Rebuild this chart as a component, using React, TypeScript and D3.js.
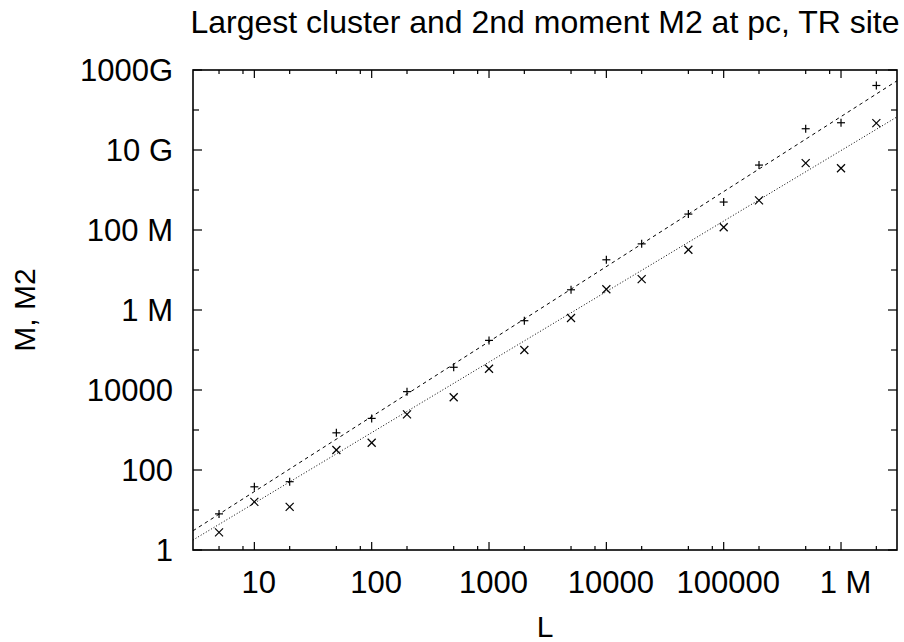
import React from "react";
import * as d3 from "d3";

const sizesL = [5, 10, 20, 50, 100, 200, 500, 1000, 2000, 5000, 1e4, 2e4, 5e4, 1e5, 2e5, 5e5, 1e6, 2e6];
const seriesPlus = [8, 38, 51, 850, 1950, 9100, 37000, 174000, 540000, 3.2e6, 1.8e7, 4.5e7, 2.5e8, 5.0e8, 4.2e9, 3.4e10, 4.8e10, 4.1e11];
const seriesCross = [2.75, 16, 12, 316, 480, 2450, 6600, 34000, 100000, 6.3e5, 3.3e6, 5.9e6, 3.2e7, 1.17e8, 5.5e8, 4.7e9, 3.5e9, 4.7e10];
const fitA = [0.385, 0.256];
const fitB = [1.875, 1.763];

const xTickValues = [10, 100, 1000, 1e4, 1e5, 1e6];
const xTickLabels = ["10", "100", "1000", "10000", "100000", "1 M"];
const xMinorMultipliers = [2, 5, 8];
const yTickValues = [1, 100, 1e4, 1e6, 1e8, 1e10, 1e12];
const yTickLabels = ["1", "100", "10000", "1 M", "100 M", "10 G", "1000G"];
const yMinorValues = [10, 1e3, 1e5, 1e7, 1e9, 1e11];

const title = "Largest cluster and 2nd moment M2 at pc, TR site";
const xLabel = "L";
const yLabel = "M, M2";

const W = 904, H = 642;
const left = 193, right = 897, top = 70, bottom = 550;
const font = "'Liberation Sans', Arial, Helvetica, sans-serif";

export default function App() {
  const x = d3.scaleLog().domain([3, 3e6]).range([left, right]);
  const y = d3.scaleLog().domain([1, 1e12]).range([bottom, top]);

  const minorX: number[] = [];
  for (let e = 0; e <= 6; e++) {
    for (const m of xMinorMultipliers) {
      const v = m * Math.pow(10, e);
      if (v > 3 && v < 3e6) minorX.push(v);
    }
  }

  const fitPath = (i: number) => {
    const xs = x.domain();
    const pts: number[] = [];
    for (let k = 0; k <= 20; k++) pts.push(xs[0] * Math.pow(xs[1] / xs[0], k / 20));
    return d3
      .line<number>()
      .x((d) => x(d))
      .y((d) => y(fitA[i] * Math.pow(d, fitB[i])))(pts) as string;
  };

  const s = 4;

  return (
    <svg width={W} height={H} style={{ position: "absolute", left: 0, top: 0, background: "#fff" }} fontFamily={font}>
      <rect x={0} y={0} width={W} height={H} fill="#fff" />
      <defs>
        <clipPath id="plotclip">
          <rect x={left} y={top} width={right - left} height={bottom - top} />
        </clipPath>
      </defs>
      {/* x ticks */}
      {xTickValues.map((v) => (
        <g key={"xt" + v}>
          <line x1={x(v)} x2={x(v)} y1={bottom} y2={bottom - 8} stroke="#000" strokeWidth={1.2} />
          <line x1={x(v)} x2={x(v)} y1={top} y2={top + 8} stroke="#000" strokeWidth={1.2} />
        </g>
      ))}
      {minorX.map((v) => (
        <g key={"xm" + v}>
          <line x1={x(v)} x2={x(v)} y1={bottom} y2={bottom - 4} stroke="#000" strokeWidth={1.2} />
          <line x1={x(v)} x2={x(v)} y1={top} y2={top + 4} stroke="#000" strokeWidth={1.2} />
        </g>
      ))}
      {/* y ticks */}
      {yTickValues.map((v) => (
        <g key={"yt" + v}>
          <line x1={left} x2={left + 9} y1={y(v)} y2={y(v)} stroke="#000" strokeWidth={1.2} />
          <line x1={right} x2={right - 9} y1={y(v)} y2={y(v)} stroke="#000" strokeWidth={1.2} />
        </g>
      ))}
      {yMinorValues.map((v) => (
        <g key={"ym" + v}>
          <line x1={left} x2={left + 6} y1={y(v)} y2={y(v)} stroke="#000" strokeWidth={1.2} />
          <line x1={right} x2={right - 6} y1={y(v)} y2={y(v)} stroke="#000" strokeWidth={1.2} />
        </g>
      ))}
      {/* frame */}
      <rect x={left} y={top} width={right - left} height={bottom - top} fill="none" stroke="#000" strokeWidth={1.6} />

      {/* tick labels */}
      {xTickValues.map((v, i) => (
        <text key={"xl" + v} x={x(v) + 4.5} y={593} fontSize={31} textAnchor="middle" fill="#000">
          {xTickLabels[i]}
        </text>
      ))}
      {yTickValues.map((v, i) => (
        <text key={"yl" + v} x={173} y={y(v) + 11} fontSize={31} textAnchor="end" fill="#000">
          {yTickLabels[i]}
        </text>
      ))}

      {/* fit lines */}
      <g clipPath="url(#plotclip)">
        <path d={fitPath(0)} fill="none" stroke="#000" strokeWidth={1} strokeDasharray="3.5,3.5" />
        <path d={fitPath(1)} fill="none" stroke="#000" strokeWidth={1} strokeDasharray="1,2" />
      </g>

      {/* points */}
      {sizesL.map((L, i) => {
        const px = x(L), py = y(seriesPlus[i]);
        return (
          <g key={"p" + i} stroke="#000" strokeWidth={1.2}>
            <line x1={px - s} x2={px + s} y1={py} y2={py} />
            <line x1={px} x2={px} y1={py - s} y2={py + s} />
          </g>
        );
      })}
      {sizesL.map((L, i) => {
        const px = x(L), py = y(seriesCross[i]);
        return (
          <g key={"c" + i} stroke="#000" strokeWidth={1.2}>
            <line x1={px - s} x2={px + s} y1={py - s} y2={py + s} />
            <line x1={px - s} x2={px + s} y1={py + s} y2={py - s} />
          </g>
        );
      })}

      {/* titles */}
      <text x={(left + right) / 2} y={33} fontSize={32} textAnchor="middle" fill="#000">
        {title}
      </text>
      <text x={(left + right) / 2} y={637} fontSize={30} textAnchor="middle" fill="#000">
        {xLabel}
      </text>
      <text transform={`translate(35, ${(top + bottom) / 2}) rotate(-90)`} fontSize={30} textAnchor="middle" fill="#000">
        {yLabel}
      </text>
    </svg>
  );
}
